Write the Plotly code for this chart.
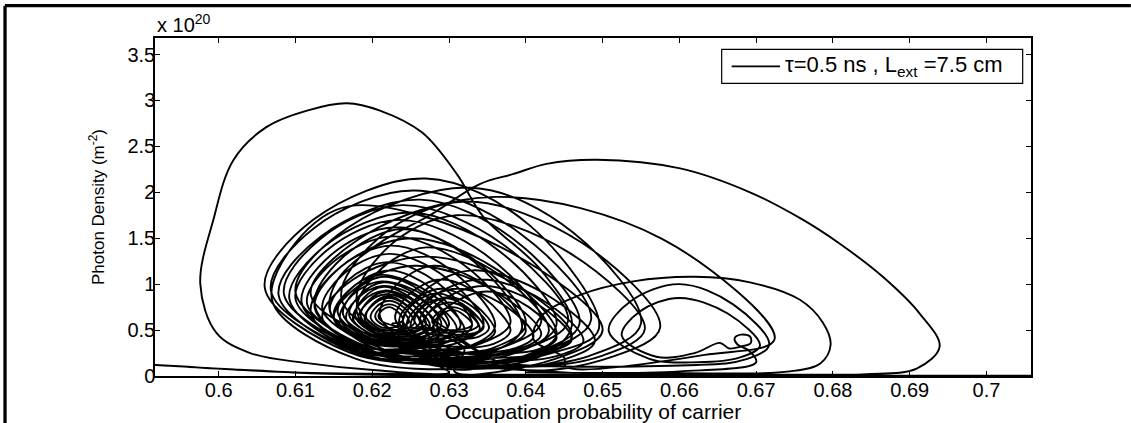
import plotly.graph_objects as go

# ---- trajectory data (occupation probability, photon density in units of 1e20 m^-2) ----
start_x = [0.7100, 0.6950, 0.6800, 0.6600, 0.6400, 0.6250, 0.6120, 0.6020]
start_y = [0.004, 0.004, 0.005, 0.005, 0.007, 0.010, 0.030, 0.070]

transient_x = [0.5917, 0.5960, 0.6000, 0.6050, 0.6100, 0.6200, 0.6350, 0.6500, 0.6650, 0.6780, 0.6844,
               0.6909, 0.6939, 0.6913, 0.6865, 0.6809, 0.6759, 0.6692, 0.6601, 0.6493, 0.6427, 0.6384,
               0.6340, 0.6275, 0.6210, 0.6155, 0.6145, 0.6180, 0.6240]
transient_y = [0.12, 0.10, 0.08, 0.06, 0.04, 0.025, 0.015, 0.012, 0.012, 0.015, 0.02,
               0.08, 0.32, 0.68, 1.08, 1.44, 1.71, 2.00, 2.26, 2.355, 2.31, 2.20,
               2.09, 1.75, 1.45, 1.05, 0.70, 0.40, 0.20]

outer_x = [0.6299, 0.6430, 0.6495, 0.6405, 0.6270, 0.6123, 0.6060, 0.6169,
           0.6297, 0.6423, 0.6485, 0.6393, 0.6255, 0.6124, 0.6068, 0.6172,
           0.6294, 0.6411, 0.6470, 0.6387, 0.6262, 0.6133, 0.6078, 0.6176,
           0.6289, 0.6400, 0.6455, 0.6369, 0.6240, 0.6132, 0.6085, 0.6178,
           0.6283, 0.6388, 0.6440, 0.6364, 0.6250, 0.6139, 0.6092, 0.6179,
           0.6276, 0.6372, 0.6420, 0.6346, 0.6235, 0.6141, 0.6100, 0.6180]
outer_y = [0.10, 0.24, 0.51, 1.64, 2.15, 1.70, 0.96, 0.26,
           0.14, 0.27, 0.61, 1.55, 2.02, 1.61, 0.93, 0.29,
           0.12, 0.25, 0.57, 1.47, 1.92, 1.52, 0.88, 0.26,
           0.18, 0.30, 0.60, 1.44, 1.86, 1.49, 0.89, 0.31,
           0.15, 0.26, 0.56, 1.37, 1.78, 1.42, 0.84, 0.28,
           0.22, 0.32, 0.59, 1.33, 1.70, 1.37, 0.84, 0.34]

mid_x = [0.6313, 0.6358, 0.6380, 0.6344, 0.6290, 0.6248, 0.6230, 0.6268,
         0.6315, 0.6372, 0.6400, 0.6352, 0.6280, 0.6231, 0.6210, 0.6258,
         0.6318, 0.6393, 0.6430, 0.6366, 0.6270, 0.6207, 0.6180, 0.6243]
mid_y = [0.30, 0.35, 0.49, 0.86, 1.05, 0.89, 0.62, 0.36,
         0.25, 0.32, 0.49, 0.96, 1.20, 0.99, 0.65, 0.33,
         0.18, 0.27, 0.49, 1.10, 1.40, 1.13, 0.69, 0.28]

left_excursion_x = [0.6320, 0.6420, 0.6460, 0.6420, 0.6345, 0.6310, 0.6265, 0.6210, 0.6167, 0.6115,
                    0.6062, 0.6019, 0.5993, 0.5976, 0.5997, 0.6041, 0.6115, 0.6201, 0.6300]
left_excursion_y = [0.10, 0.22, 0.55, 1.15, 1.73, 2.20, 2.65, 2.89, 2.97, 2.89,
                    2.71, 2.35, 1.70, 1.00, 0.47, 0.25, 0.14, 0.065, 0.04]

inner_x = [0.6269, 0.6356, 0.6400, 0.6332, 0.6230, 0.6145, 0.6108, 0.6181,
           0.6261, 0.6340, 0.6380, 0.6319, 0.6228, 0.6149, 0.6115, 0.6181,
           0.6254, 0.6325, 0.6360, 0.6306, 0.6225, 0.6155, 0.6125, 0.6184,
           0.6251, 0.6314, 0.6345, 0.6296, 0.6222, 0.6161, 0.6135, 0.6188,
           0.6247, 0.6302, 0.6330, 0.6286, 0.6220, 0.6168, 0.6145, 0.6191,
           0.6243, 0.6291, 0.6315, 0.6278, 0.6222, 0.6175, 0.6155, 0.6195]
inner_y = [0.20, 0.30, 0.56, 1.27, 1.62, 1.31, 0.80, 0.31,
           0.26, 0.35, 0.58, 1.21, 1.52, 1.24, 0.79, 0.36,
           0.24, 0.32, 0.54, 1.13, 1.42, 1.16, 0.74, 0.33,
           0.30, 0.37, 0.56, 1.07, 1.33, 1.10, 0.73, 0.38,
           0.32, 0.38, 0.55, 1.01, 1.24, 1.04, 0.71, 0.39,
           0.35, 0.41, 0.55, 0.95, 1.15, 0.97, 0.69, 0.41]

core_x = [0.6238, 0.6279, 0.6300, 0.6266, 0.6215, 0.6178, 0.6162, 0.6197,
          0.6236, 0.6272, 0.6290, 0.6260, 0.6215, 0.6184, 0.6170, 0.6200,
          0.6234, 0.6265, 0.6280, 0.6254, 0.6215, 0.6189, 0.6178, 0.6204,
          0.6232, 0.6257, 0.6270, 0.6249, 0.6218, 0.6195, 0.6185, 0.6206,
          0.6231, 0.6252, 0.6262, 0.6245, 0.6220, 0.6200, 0.6192, 0.6210,
          0.6229, 0.6246, 0.6255, 0.6242, 0.6222, 0.6205, 0.6198, 0.6212,
          0.6228, 0.6241, 0.6248, 0.6238, 0.6222, 0.6209, 0.6204, 0.6215]
core_y = [0.38, 0.43, 0.56, 0.91, 1.08, 0.93, 0.67, 0.44,
          0.40, 0.44, 0.56, 0.87, 1.02, 0.88, 0.66, 0.45,
          0.42, 0.46, 0.56, 0.83, 0.97, 0.85, 0.65, 0.46,
          0.45, 0.48, 0.57, 0.80, 0.92, 0.82, 0.65, 0.49,
          0.48, 0.51, 0.58, 0.77, 0.87, 0.78, 0.64, 0.51,
          0.50, 0.52, 0.58, 0.74, 0.82, 0.75, 0.63, 0.53,
          0.53, 0.55, 0.59, 0.72, 0.78, 0.73, 0.64, 0.55]

core_right_x = [0.6295, 0.6325, 0.6340, 0.6318, 0.6285, 0.6254, 0.6240, 0.6265,
                0.6305, 0.6332, 0.6345, 0.6325, 0.6295, 0.6267, 0.6255, 0.6278,
                0.6310, 0.6334, 0.6345, 0.6327, 0.6300, 0.6278, 0.6268, 0.6287,
                0.6311, 0.6329, 0.6338, 0.6325, 0.6305, 0.6286, 0.6278, 0.6293]
core_right_y = [0.38, 0.42, 0.51, 0.77, 0.90, 0.79, 0.60, 0.42,
                0.42, 0.45, 0.53, 0.74, 0.85, 0.76, 0.60, 0.45,
                0.45, 0.47, 0.54, 0.71, 0.80, 0.72, 0.60, 0.48,
                0.48, 0.50, 0.55, 0.68, 0.75, 0.69, 0.59, 0.50]

side_x = [0.6378, 0.6453, 0.6490, 0.6426, 0.6330, 0.6267, 0.6240, 0.6303,
          0.6374, 0.6441, 0.6475, 0.6421, 0.6340, 0.6277, 0.6250, 0.6306,
          0.6372, 0.6431, 0.6460, 0.6414, 0.6345, 0.6289, 0.6265, 0.6314,
          0.6368, 0.6416, 0.6440, 0.6404, 0.6350, 0.6301, 0.6280, 0.6320,
          0.6307, 0.6436, 0.6500, 0.6368, 0.6170, 0.6100, 0.6070, 0.6178,
          0.6348, 0.6483, 0.6550, 0.6462, 0.6330, 0.6169, 0.6100, 0.6213]
side_y = [0.12, 0.19, 0.38, 0.89, 1.15, 0.92, 0.55, 0.20,
          0.16, 0.22, 0.38, 0.83, 1.05, 0.85, 0.53, 0.23,
          0.20, 0.26, 0.40, 0.79, 0.98, 0.81, 0.53, 0.26,
          0.24, 0.29, 0.41, 0.75, 0.92, 0.77, 0.53, 0.29,
          0.05, 0.18, 0.50, 1.40, 1.85, 1.45, 0.81, 0.19,
          0.08, 0.22, 0.57, 1.56, 2.05, 1.62, 0.91, 0.24]

core2_x = [0.6244, 0.6295, 0.6320, 0.6276, 0.6210, 0.6168, 0.6150, 0.6193,
           0.6242, 0.6287, 0.6310, 0.6271, 0.6212, 0.6174, 0.6158, 0.6196,
           0.6239, 0.6278, 0.6298, 0.6264, 0.6214, 0.6180, 0.6166, 0.6199,
           0.6235, 0.6269, 0.6285, 0.6257, 0.6216, 0.6187, 0.6175, 0.6203,
           0.6233, 0.6261, 0.6275, 0.6252, 0.6218, 0.6193, 0.6182, 0.6205,
           0.6231, 0.6254, 0.6265, 0.6247, 0.6220, 0.6199, 0.6190, 0.6209,
           0.6304, 0.6341, 0.6360, 0.6332, 0.6290, 0.6252, 0.6235, 0.6266,
           0.6312, 0.6339, 0.6352, 0.6331, 0.6300, 0.6273, 0.6262, 0.6285]
core2_y = [0.30, 0.36, 0.50, 0.90, 1.10, 0.92, 0.64, 0.36,
           0.33, 0.38, 0.51, 0.86, 1.03, 0.88, 0.62, 0.39,
           0.36, 0.40, 0.52, 0.83, 0.98, 0.84, 0.62, 0.41,
           0.40, 0.44, 0.53, 0.80, 0.93, 0.81, 0.62, 0.44,
           0.43, 0.46, 0.55, 0.78, 0.89, 0.79, 0.62, 0.47,
           0.46, 0.49, 0.56, 0.75, 0.85, 0.76, 0.62, 0.49,
           0.32, 0.36, 0.48, 0.79, 0.95, 0.81, 0.59, 0.37,
           0.40, 0.43, 0.52, 0.75, 0.86, 0.76, 0.59, 0.44]

fill_x = [0.6296, 0.6392, 0.6440, 0.6364, 0.6250, 0.6159, 0.6120, 0.6200,
          0.6314, 0.6411, 0.6460, 0.6384, 0.6270, 0.6175, 0.6135, 0.6216,
          0.6299, 0.6380, 0.6420, 0.6354, 0.6255, 0.6182, 0.6150, 0.6218,
          0.6274, 0.6355, 0.6395, 0.6333, 0.6240, 0.6160, 0.6125, 0.6193,
          0.6336, 0.6385, 0.6410, 0.6370, 0.6310, 0.6265, 0.6245, 0.6286,
          0.6226, 0.6235, 0.6240, 0.6233, 0.6222, 0.6212, 0.6208, 0.6216,
          0.6310, 0.6323, 0.6330, 0.6320, 0.6305, 0.6291, 0.6285, 0.6296]
fill_y = [0.10, 0.20, 0.45, 1.15, 1.50, 1.19, 0.69, 0.21,
          0.14, 0.22, 0.43, 1.01, 1.30, 1.05, 0.63, 0.23,
          0.20, 0.27, 0.45, 0.95, 1.20, 0.98, 0.62, 0.28,
          0.16, 0.26, 0.52, 1.24, 1.60, 1.28, 0.77, 0.28,
          0.25, 0.30, 0.43, 0.78, 0.95, 0.80, 0.54, 0.31,
          0.57, 0.58, 0.61, 0.70, 0.75, 0.71, 0.65, 0.58,
          0.50, 0.52, 0.56, 0.66, 0.72, 0.67, 0.59, 0.52]

wide_x = [0.6388, 0.6513, 0.6575, 0.6473, 0.6320, 0.6208, 0.6160, 0.6264,
          0.6386, 0.6499, 0.6555, 0.6457, 0.6310, 0.6219, 0.6180, 0.6274]
wide_y = [0.08, 0.21, 0.53, 1.45, 1.90, 1.50, 0.84, 0.23,
          0.10, 0.22, 0.51, 1.34, 1.75, 1.39, 0.79, 0.23]

right_excursion_x = [0.6450, 0.6600, 0.6744, 0.6784, 0.6797, 0.6787, 0.6757, 0.6692, 0.6620, 0.6540,
                     0.6470, 0.6420, 0.6410, 0.6450,
                     0.6452, 0.6633, 0.6724, 0.6578, 0.6360, 0.6192, 0.6120, 0.6271,
                     0.6623, 0.6686, 0.6717, 0.6670, 0.6600, 0.6536, 0.6508, 0.6560,
                     0.6624, 0.6678, 0.6705, 0.6663, 0.6600, 0.6548, 0.6525, 0.6570,
                     0.6620, 0.6653, 0.6665, 0.6680, 0.6693, 0.6692, 0.6680, 0.6672, 0.6676,
                     0.6690, 0.6700, 0.6600, 0.6400]
right_excursion_y = [0.04, 0.03, 0.05, 0.14, 0.34, 0.58, 0.83, 1.02, 1.08, 1.03,
                     0.88, 0.65, 0.40, 0.20,
                     0.10, 0.23, 0.40, 1.49, 1.95, 1.54, 0.88, 0.25,
                     0.12, 0.18, 0.34, 0.78, 1.00, 0.81, 0.49, 0.19,
                     0.15, 0.20, 0.33, 0.68, 0.85, 0.70, 0.44, 0.21,
                     0.25, 0.36, 0.30, 0.32, 0.36, 0.43, 0.45, 0.41, 0.34,
                     0.28, 0.15, 0.05, 0.04]

x_ticks = [0.6, 0.61, 0.62, 0.63, 0.64, 0.65, 0.66, 0.67, 0.68, 0.69, 0.7]
y_ticks = [0, 0.5, 1, 1.5, 2, 2.5, 3, 3.5]
y_tick_text = ["0", "0.5", "1", "1.5", "2", "2.5", "3", "3.5"]
legend_label = "τ=0.5 ns , L<sub>ext</sub> =7.5 cm"

occupation = (start_x + transient_x + outer_x + mid_x + left_excursion_x + inner_x + core_x
              + core_right_x + side_x + core2_x + fill_x + wide_x + right_excursion_x)
photon = (start_y + transient_y + outer_y + mid_y + left_excursion_y + inner_y + core_y
          + core_right_y + side_y + core2_y + fill_y + wide_y + right_excursion_y)

FONT = "Liberation Sans, Arial, sans-serif"

fig = go.Figure()
fig.add_trace(go.Scatter(
    x=occupation, y=photon, mode="lines",
    line=dict(color="black", width=1.9, shape="spline", smoothing=1.0),
    name=legend_label, showlegend=False,
))

# legend box drawn in paper coordinates (box, sample line, label)
legend_shapes = [
    dict(type="rect", xref="paper", yref="paper", x0=0.6469, x1=0.9905, y0=0.8660, y1=0.9666,
         line=dict(color="black", width=1.2), fillcolor="white", layer="above"),
    dict(type="line", xref="paper", yref="paper", x0=0.6583, x1=0.7135, y0=0.9163, y1=0.9163,
         line=dict(color="black", width=1.8), layer="above"),
]

fig.update_layout(
    width=1131, height=423,
    margin=dict(l=155, r=100, t=38, b=47, autoexpand=False),
    paper_bgcolor="white", plot_bgcolor="white",
    font=dict(family=FONT, size=19, color="black"),
    showlegend=False,
    xaxis=dict(range=[0.5917, 0.7058], tickvals=x_ticks, automargin=False,
               ticks="inside", ticklen=5, tickcolor="black", tickwidth=1,
               showline=True, linecolor="black", linewidth=1.5, mirror="ticks",
               showgrid=False, zeroline=False, ticklabelstandoff=-5,
               tickfont=dict(family=FONT, size=20),
               title=dict(text="Occupation probability of carrier",
                          font=dict(family=FONT, size=21), standoff=0)),
    yaxis=dict(range=[0, 3.68], tickvals=y_ticks, ticktext=y_tick_text, automargin=False,
               ticks="inside", ticklen=5, tickcolor="black", tickwidth=1,
               showline=True, linecolor="black", linewidth=1.5, mirror="ticks",
               showgrid=False, zeroline=False, ticklabelstandoff=-6,
               tickfont=dict(family=FONT, size=20),
               title=dict(text="Photon Density (m<sup>-2</sup>)",
                          font=dict(family=FONT, size=17), standoff=18)),
    annotations=[
        dict(text="x 10<sup>20</sup>", xref="paper", yref="paper",
             x=0.0, y=1.0, xanchor="left", yanchor="bottom",
             showarrow=False, font=dict(family=FONT, size=20)),
        dict(text=legend_label, xref="paper", yref="paper",
             x=0.7169, y=0.9163, xanchor="left", yanchor="middle",
             showarrow=False, font=dict(family=FONT, size=22)),
    ],
    shapes=[
        dict(type="line", xref="paper", yref="paper", x0=-0.1712, x1=1.114,
             y0=1.0956, y1=1.0956, line=dict(color="black", width=3.3)),
        dict(type="line", xref="paper", yref="paper", x0=-0.1712, x1=-0.1712,
             y0=1.0956, y1=-0.139, line=dict(color="black", width=3.3)),
    ] + legend_shapes,
)

fig.write_html("out.html",
               post_script="document.body.style.margin='0';document.body.style.overflow='hidden';"
                           "document.documentElement.style.overflow='hidden';")
